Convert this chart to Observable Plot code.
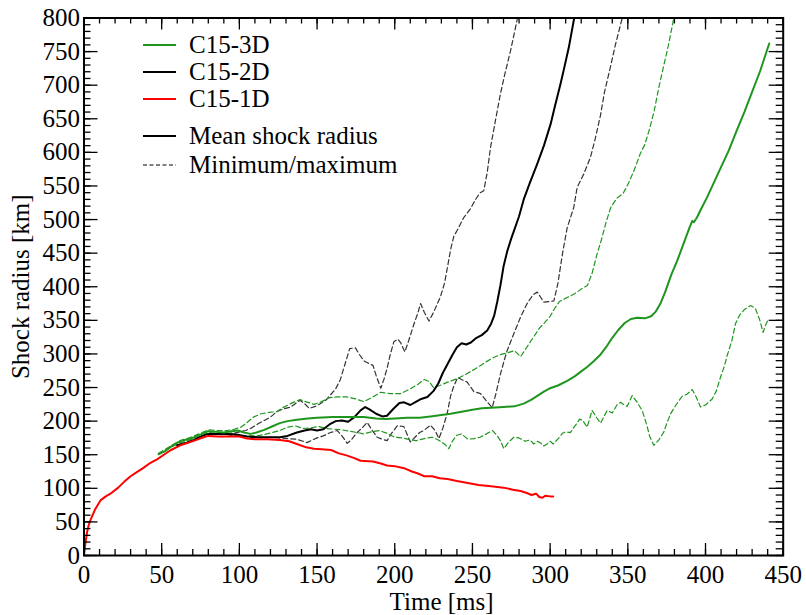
<!DOCTYPE html>
<html>
<head>
<meta charset="utf-8">
<script src="https://cdn.jsdelivr.net/npm/d3@7"></script>
<script src="https://cdn.jsdelivr.net/npm/@observablehq/plot@0.6"></script>
<style>
  html, body { margin: 0; padding: 0; background: #fff; }
  #chart { width: 806px; height: 615px; }
  #chart svg text { font-family: "Liberation Serif", "Times New Roman", serif !important; }
</style>
</head>
<body>
<div id="chart"></div>
<script>
// Tick values
const xTicks = [0, 50, 100, 150, 200, 250, 300, 350, 400, 450];
const yTicks = [0, 50, 100, 150, 200, 250, 300, 350, 400, 450, 500, 550, 600, 650, 700, 750, 800];

// Shock radius [km] against time [ms], as [t, r] pairs
const c15_1D = [[0,0],[1,20],[2,35],[3,45],[4,52],[7,68],[10.6,82],[14,88],[17,92],[22,101],[26,110],[30,118],[34,124],[38,130],[42.8,138],[47,143],[51.4,150],[56,157],[62,164],[66,167],[71,171],[77,176],[80,178],[86,177],[92,177],[100,177],[105,174],[110,173],[118,173],[126,172],[132,170],[137,166],[143,161],[148,159],[153,158],[159,157],[164,152],[169,149],[174,145],[178,141],[186,140],[191,137],[195,134],[200,133],[206,130],[211,125],[215,122],[219,118],[224,118],[229,115],[234,114],[240,111],[247,108],[254,105],[262,103],[270,101],[276,98],[281,96],[285,93],[288,90],[291,92],[293,87],[295,86],[297,89],[300,88],[302,88]];

const c15_3D_mean = [[48,151],[52,155],[56,162],[60,168],[63,171],[67,173],[71,176],[75,180],[80,185],[85,184],[90,183],[95,185],[99,186],[103,183],[107,181],[111,183],[116,187],[121,192],[126,197],[131,200],[137,202],[144,204],[150,205],[160,206],[170,206],[180,206],[188,204],[194,203],[200,204],[208,205],[216,205],[223,207],[230,209],[236,211],[243,214],[250,217],[256,219],[262,220],[270,221],[277,222],[283,226],[288,232],[292,238],[296,244],[300,249],[305,253],[311,260],[316,267],[320,274],[324,281],[328,289],[332,298],[336,310],[340,324],[344,336],[348,346],[352,352],[356,354],[361,353],[365,356],[368,363],[371,375],[374,392],[378,418],[382,440],[386,465],[390,490],[391.5,498],[392.5,496],[394.5,503],[397,515],[401,533],[405,553],[410,578],[415,603],[420,632],[425,660],[430,690],[435,720],[441,762]];

const c15_3D_max = [[48,152],[55,162],[62,171],[70,177],[76,183],[80,187],[86,186],[92,186],[97,188],[101,191],[105,198],[109,206],[114,211],[119,213],[124,214],[128,220],[133,226],[139,232],[144,228],[148,225],[153,229],[158,235],[163,236],[169,236],[175,233],[180,229],[186,236],[191,243],[197,241],[204,241],[210,248],[215,255],[219,262],[222,259],[225,250],[229,253],[234,258],[240,263],[246,270],[252,278],[258,287],[263,294],[268,299],[273,302],[277,305],[281,296],[285,310],[289,324],[293,338],[297,348],[300,356],[303,368],[306,378],[311,384],[316,390],[321,398],[324,402],[327,420],[330,447],[333,470],[336,496],[339,518],[343,532],[347,539],[350,552],[354,573],[358,598],[361,612],[364,635],[367,662],[370,697],[373,728],[376,758],[379.6,800]];

const c15_3D_min = [[48,150],[55,160],[62,168],[70,173],[76,178],[80,183],[86,182],[92,181],[97,181],[101,178],[106,178],[111,178],[116,180],[121,183],[126,186],[131,191],[136,193],[141,189],[146,190],[151,192],[156,189],[161,188],[166,187],[171,185],[176,183],[180,181],[185,184],[190,186],[195,182],[200,176],[205,175],[210,172],[214,171],[219,174],[224,176],[228,172],[232,166],[234.8,159],[237,170],[240,179],[243,181],[247,173],[251,174],[255,176],[259,181],[263,186],[266,178],[268,171],[270.2,159],[273,168],[276.6,176],[280,175],[284,170],[287,172],[289.5,166],[292,170],[294,167],[296,163],[298,166],[300,170],[302,166],[304,171],[306,176],[308,182],[310,184],[313,183],[315,190],[317,196],[319,203],[321,201],[323.8,191],[326,208],[327,216],[330,205],[332.4,197],[334.5,206],[336.7,216],[340,212],[343,224],[345.3,228],[347,225],[349.6,222],[352.8,238],[356,228],[359.2,216],[362,196],[364,178],[366.7,164],[370,172],[373.2,184],[375,196],[377.5,211],[381,224],[385,237],[388,240],[391.4,247],[394,236],[396.8,221],[400,224],[404.3,233],[407,245],[409.6,265],[412,281],[414,298],[417,320],[419.3,345],[422,358],[425,366],[429,372],[432,368],[435,350],[437,332],[439,345],[440.7,352]];

const c15_2D_mean = [[60,164],[66,168],[71,172],[76,178],[80,181],[86,181],[92,181],[98,180],[105,177],[112,176],[120,176],[126,176],[131,178],[137,183],[142,186],[146,188],[150,186],[154,188],[158,195],[162,200],[166,201],[170,199],[174,206],[178,216],[181,221],[184,217],[188,211],[192,207],[195,208],[199,218],[203,227],[206,228],[210,224],[213,228],[217,233],[221,236],[225,245],[228,256],[231,272],[234,285],[237,298],[240,310],[243,316],[246,314],[249,317],[252,323],[256,328],[259.5,335],[262,345],[264,357],[266,378],[268,402],[270,430],[272.4,453],[275,472],[277,485],[280,505],[283,530],[287,555],[291.7,583],[296,610],[300.3,642],[303,668],[306.7,702],[309,725],[312,756],[315.5,800]];

const c15_2D_max = [[92,181],[98,183],[104,186],[108,190],[112,196],[116,201],[120,206],[124,214],[128,218],[133,221],[136,226],[139,231],[142,226],[145,219],[149,222],[152,226],[156,232],[159,240],[162,248],[165,262],[168,285],[171,308],[174.7,309],[177,300],[180,290],[183,286],[186,283],[188,268],[191,249],[193,262],[195,278],[197,298],[199.4,318],[202,322],[204,316],[206.5,303],[209,320],[212,342],[215,362],[216.6,375],[219,362],[222,349],[225,362],[229.4,385],[232,405],[234,430],[236,456],[238,475],[240.2,484],[244.4,503],[248.7,516],[252,530],[255,540],[257.3,543],[259.5,570],[261.6,607],[265,650],[268,687],[271,718],[274.5,751],[277,778],[279,800]];

const c15_2D_min = [[92,180],[98,178],[104,177],[110,176],[116,176],[121,176],[126,175],[131,174],[137,173],[141,170],[143.6,168],[147,172],[150,175],[154,178],[158.6,183],[163,186],[166,178],[169.4,167],[172,172],[175.8,183],[179,190],[182.3,198],[185,188],[188.7,176],[192,173],[195.1,171],[198,182],[201.6,193],[205.8,192],[208,180],[210,169],[213,176],[216,183],[218.7,186],[223,194],[226,186],[228.4,174],[231,190],[233.7,211],[236,238],[238,252],[240.5,265],[243,262],[246.6,258],[250.9,244],[255.2,241],[259,230],[262.7,220],[265,240],[268,270],[272,303],[276.6,330],[281,355],[285.2,375],[289,388],[291.7,392],[294,384],[296,377],[300,378],[302.4,379],[305,405],[308,450],[311,488],[315.2,518],[317.4,548],[321.7,568],[326,593],[329,620],[332.4,655],[335,690],[338.8,727],[342,760],[346.4,800]];

const GREEN = "#1e961e", BLACK = "#000", DASHED_BLACK = "#333", RED = "#ff0000";
const FONT = "'Liberation Serif', 'Times New Roman', serif";

const W = 806, H = 615;
const mL = 83.5, mR = 23.3, mT = 17.5, mB = 60;
const innerW = W - mL - mR, innerH = H - mT - mB;

const rows = pts => pts.map(([t, r]) => ({t, r}));
const xMinor = d3.range(0, 451, 10);
const yMinor = d3.range(0, 801, 10);

const dashed = (pts, stroke) => Plot.line(rows(pts), {x: "t", y: "r", stroke, strokeWidth: 1.2, strokeDasharray: "5,3", clip: true});
const solid = (pts, stroke) => Plot.line(rows(pts), {x: "t", y: "r", stroke, strokeWidth: 2, clip: true});

const svg = Plot.plot({
  width: W,
  height: H,
  marginLeft: mL,
  marginRight: mR,
  marginTop: mT,
  marginBottom: mB,
  style: {fontFamily: FONT, fontSize: "25px", color: "#000", background: "#fff"},
  x: {domain: [0, 450]},
  y: {domain: [0, 800]},
  marks: [
    dashed(c15_2D_max, DASHED_BLACK),
    dashed(c15_2D_min, DASHED_BLACK),
    dashed(c15_3D_max, GREEN),
    dashed(c15_3D_min, GREEN),
    solid(c15_2D_mean, BLACK),
    solid(c15_3D_mean, GREEN),
    solid(c15_1D, RED),
    // inward ticks on all four sides
    Plot.tickX(xMinor, {x: d => d, insetTop: innerH - 6, strokeWidth: 1.3}),
    Plot.tickX(xTicks, {x: d => d, insetTop: innerH - 12, strokeWidth: 1.3}),
    Plot.tickX(xMinor, {x: d => d, insetBottom: innerH - 6, strokeWidth: 1.3}),
    Plot.tickX(xTicks, {x: d => d, insetBottom: innerH - 12, strokeWidth: 1.3}),
    Plot.tickY(yMinor, {y: d => d, insetRight: innerW - 7, strokeWidth: 1.3}),
    Plot.tickY(yTicks, {y: d => d, insetRight: innerW - 14, strokeWidth: 1.3}),
    Plot.tickY(yMinor, {y: d => d, insetLeft: innerW - 7, strokeWidth: 1.3}),
    Plot.tickY(yTicks, {y: d => d, insetLeft: innerW - 14, strokeWidth: 1.3}),
    Plot.frame({strokeWidth: 2}),
    Plot.axisX(xTicks, {tickSize: 0, tickPadding: 10, label: null, fontSize: 25}),
    Plot.axisY(yTicks, {tickSize: 0, tickPadding: 4, label: null, fontSize: 25}),
    Plot.text(["Time [ms]"], {text: d => d, frameAnchor: "bottom", dx: 8, dy: 46, fontSize: 25, textAnchor: "middle", lineAnchor: "middle"}),
    Plot.text(["Shock radius [km]"], {text: d => d, frameAnchor: "left", dx: -63, rotate: -90, fontSize: 25, textAnchor: "middle", lineAnchor: "middle"})
  ]
});

// Legend
const legendItems = [
  {label: "C15-3D", stroke: GREEN, width: 2, dash: null, y: 45},
  {label: "C15-2D", stroke: BLACK, width: 2, dash: null, y: 72},
  {label: "C15-1D", stroke: RED, width: 2, dash: null, y: 99},
  {label: "Mean shock radius", stroke: BLACK, width: 2, dash: null, y: 136},
  {label: "Minimum/maximum", stroke: BLACK, width: 1, dash: "4,2.5", y: 165}
];
const lg = d3.select(svg).append("g")
  .attr("font-size", 25)
  .attr("text-anchor", "start")
  .attr("fill", "#000");
const item = lg.selectAll("g").data(legendItems).join("g")
  .attr("transform", d => `translate(0,${d.y})`);
item.append("line")
  .attr("x1", 143).attr("x2", 176)
  .attr("stroke", d => d.stroke)
  .attr("stroke-width", d => d.width)
  .attr("stroke-dasharray", d => d.dash);
item.append("text")
  .attr("x", 189).attr("dy", "0.33em")
  .attr("text-anchor", "start")
  .text(d => d.label);

document.getElementById("chart").appendChild(svg);
</script>
</body>
</html>
